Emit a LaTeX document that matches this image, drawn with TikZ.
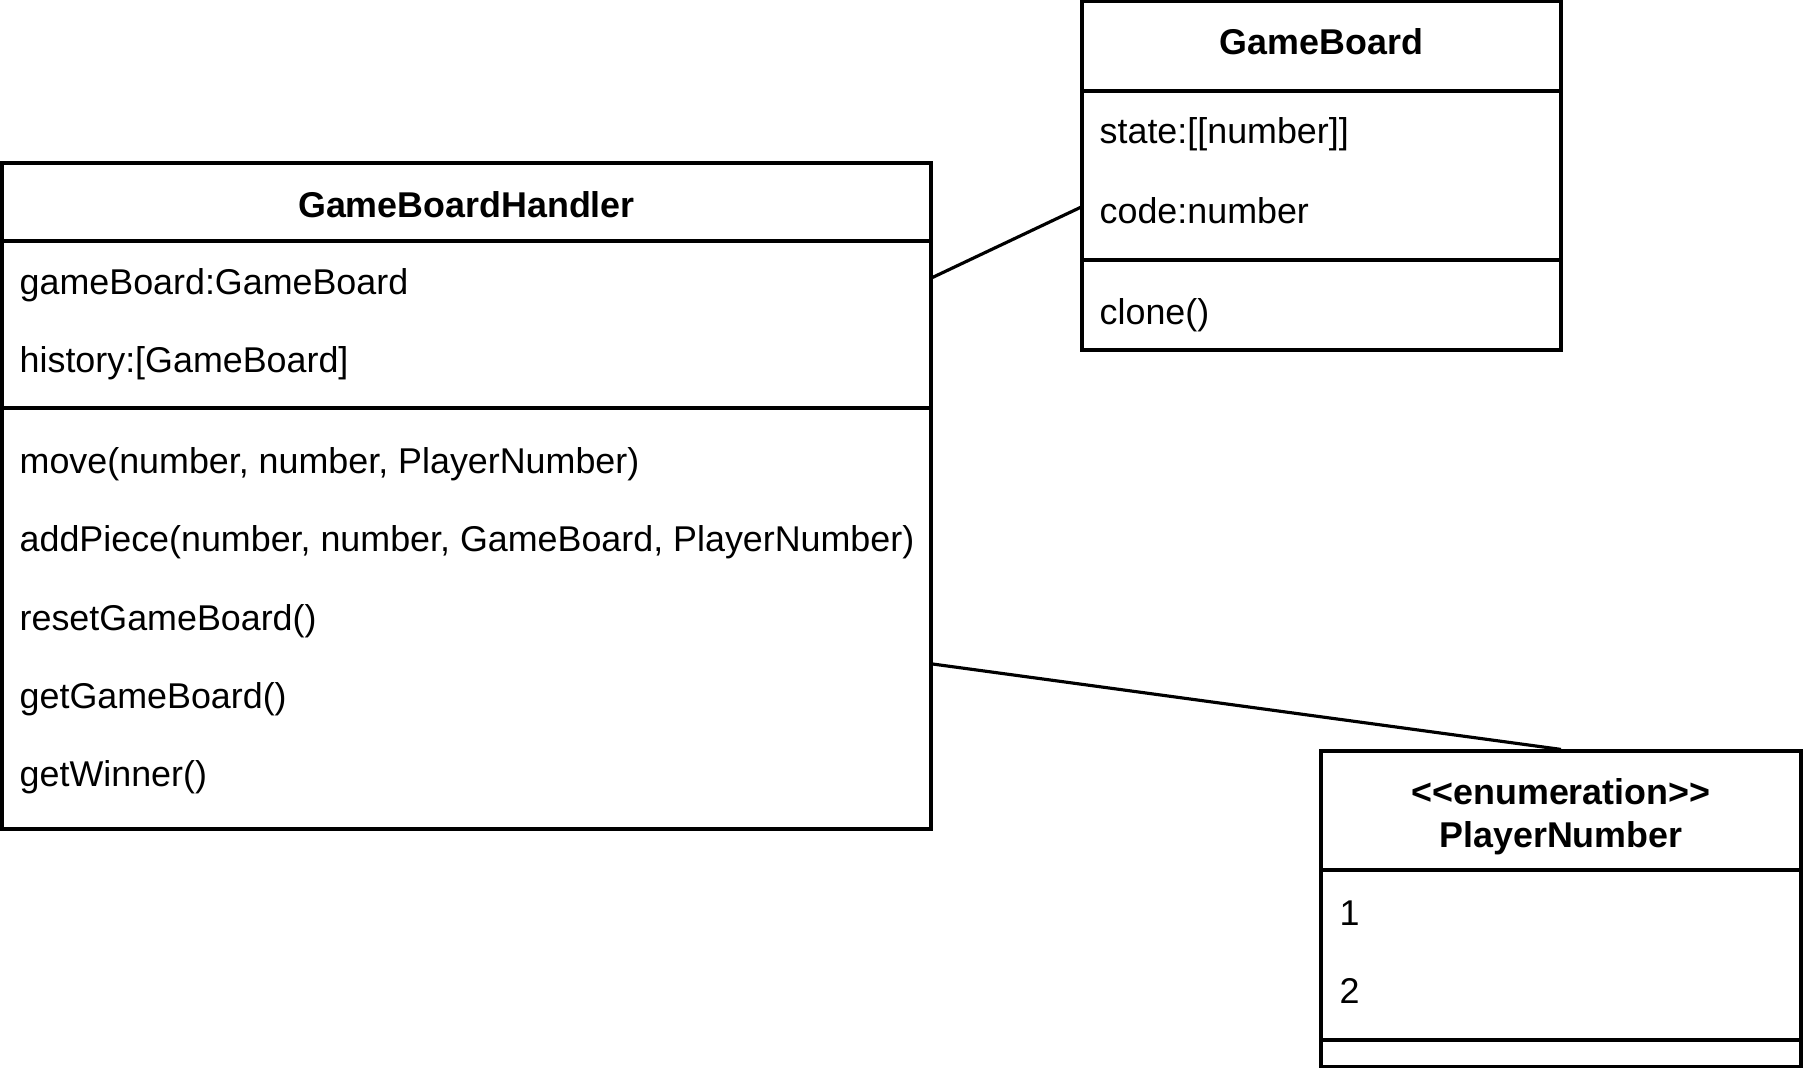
\documentclass[tikz,border=0pt]{standalone}
\usepackage{fontspec}
\setmainfont{Liberation Sans}

\begin{document}
\begin{tikzpicture}[
    compart/.style={rectangle, draw=black, line width=0.9pt, inner sep=0pt},
    classname/.style={font=\fontsize{10.2}{12.3}\selectfont\bfseries, align=center, inner sep=0pt},
    member/.style={anchor=west, font=\fontsize{10.2}{12}\selectfont, inner sep=0pt},
    link/.style={line width=0.9pt}
]
\useasboundingbox (0,0) rectangle (18.03,-10.68);

% GameBoardHandler class
\node[compart, minimum width=9.29cm, minimum height=0.78cm] at (4.665,-2.02) (gbh) {};
\node[compart, minimum width=9.29cm, minimum height=1.67cm] at (4.665,-3.245) (gbhattr) {};
\node[compart, minimum width=9.29cm, minimum height=4.21cm] at (4.665,-6.185) (gbhops) {};

\node[classname] at (4.665,-2.05) (gbhname) {GameBoardHandler};
\node[member] at (0.19,-2.85) (gbhboard) {gameBoard:GameBoard};
\node[member] at (0.19,-3.63) (gbhhist) {history:[GameBoard]};
\node[member] at (0.19,-4.64) (gbhmove) {move(number, number, PlayerNumber)};
\node[member] at (0.19,-5.42) (gbhadd) {addPiece(number, number, GameBoard, PlayerNumber)};
\node[member] at (0.19,-6.21) (gbhreset) {resetGameBoard()};
\node[member] at (0.19,-6.99) (gbhget) {getGameBoard()};
\node[member] at (0.19,-7.77) (gbhwin) {getWinner()};

% GameBoard class
\node[compart, minimum width=4.79cm, minimum height=0.90cm] at (13.215,-0.46) (gb) {};
\node[compart, minimum width=4.79cm, minimum height=1.69cm] at (13.215,-1.755) (gbattr) {};
\node[compart, minimum width=4.79cm, minimum height=0.90cm] at (13.215,-3.05) (gbops) {};

\node[classname] at (13.215,-0.42) (gbname) {GameBoard};
\node[member] at (10.99,-1.34) (gbstate) {state:[[number]]};
\node[member] at (10.99,-2.11) (gbcode) {code:number};
\node[member] at (10.99,-3.15) (gbclone) {clone()};

% PlayerNumber enumeration
\node[compart, minimum width=4.80cm, minimum height=1.19cm] at (15.61,-8.105) (pn) {};
\node[compart, minimum width=4.80cm, minimum height=1.70cm] at (15.61,-9.55) (pnvals) {};
\node[compart, minimum width=4.80cm, minimum height=0.27cm] at (15.61,-10.535) (pnops) {};

\node[classname] at (15.61,-8.165) (pnname) {<{}<enumeration>{}>\\PlayerNumber};
\node[member] at (13.39,-9.13) (pnone) {1};
\node[member] at (13.39,-9.91) (pntwo) {2};

% Associations
\draw[link] ([yshift=-0.38cm]gbhattr.north east) -- ([yshift=-1.18cm]gbattr.north west);
\draw[link] ([yshift=-0.455cm]gbhops.east) -- (pn.north);

\end{tikzpicture}
\end{document}
